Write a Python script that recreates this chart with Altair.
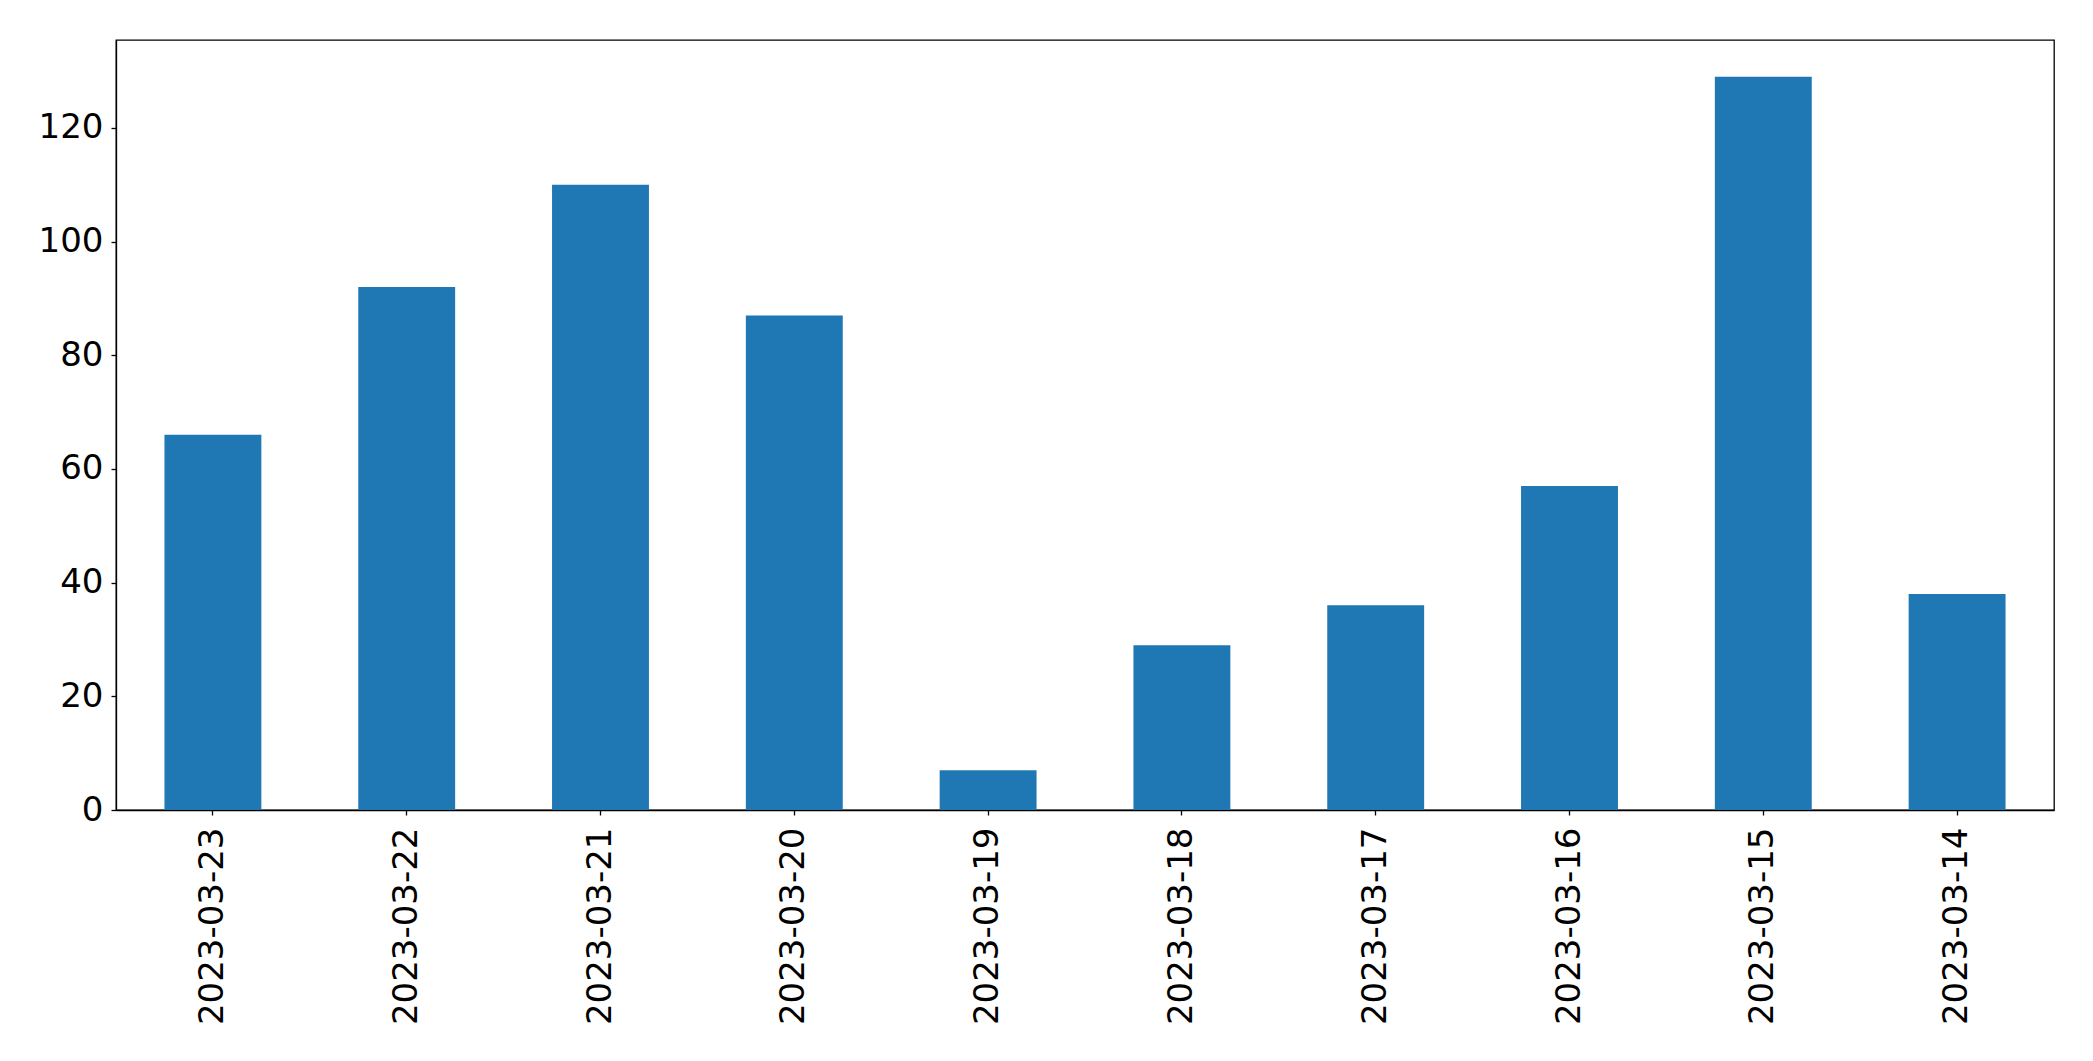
import altair as alt
import pandas as pd

dates = ["2023-03-23", "2023-03-22", "2023-03-21", "2023-03-20", "2023-03-19",
         "2023-03-18", "2023-03-17", "2023-03-16", "2023-03-15", "2023-03-14"]
counts = [66, 92, 110, 87, 7, 29, 36, 57, 129, 38]
y_ticks = [0, 20, 40, 60, 80, 100, 120]

df = pd.DataFrame({"date": dates, "count": counts})

FONT = "DejaVu Sans"

chart = alt.Chart(df).mark_bar(color="#1f77b4").encode(
    x=alt.X("date:N", sort=None, title=None,
            scale=alt.Scale(paddingInner=0.5, paddingOuter=0.25),
            axis=alt.Axis(labelAngle=270, labelFontSize=34, labelFont=FONT,
                          labelColor="black", tickColor="black", tickSize=5,
                          tickWidth=1.3, domainColor="black", domainWidth=1.3,
                          labelPadding=12, labelLimit=0, grid=False)),
    y=alt.Y("count:Q", title=None,
            scale=alt.Scale(domain=[0, 135.45], nice=False, zero=True),
            axis=alt.Axis(values=y_ticks, labelFontSize=34, labelFont=FONT,
                          labelColor="black", tickColor="black", tickSize=5,
                          tickWidth=1.3, domainColor="black", domainWidth=1.3,
                          labelPadding=8, labelLimit=0, grid=False)),
).properties(
    width=1938,
    height=770,
    autosize=alt.AutoSizeParams(type="none"),
    padding={"left": 108, "top": 32, "right": 30, "bottom": 220},
    background="white",
).configure_view(
    stroke="black", strokeWidth=1.3
)

chart.save("out.html", embed_options={"renderer": "svg", "actions": False})
